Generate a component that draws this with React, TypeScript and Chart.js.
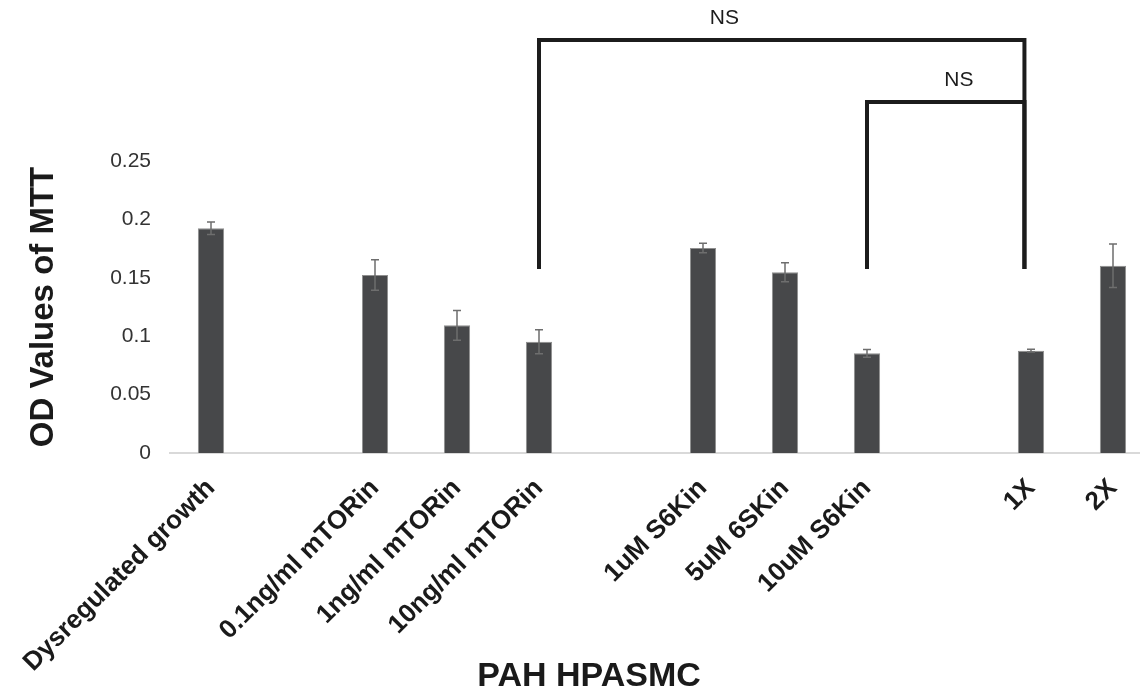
import { useEffect, useRef } from 'react';
import { Chart, registerables } from 'chart.js';

Chart.register(...registerables);

const categories = [
  'Dysregulated growth',
  '',
  '0.1ng/ml mTORin',
  '1ng/ml mTORin',
  '10ng/ml mTORin',
  '',
  '1uM S6Kin',
  '5uM 6SKin',
  '10uM S6Kin',
  '',
  '1X',
  '2X',
];
const odValues = [0.1924, null, 0.1524, 0.1093, 0.0953, null, 0.1755, 0.1547, 0.0853, null, 0.0876, 0.1604];
const odErrors = [0.0053, null, 0.0131, 0.0128, 0.0103, null, 0.004, 0.0081, 0.0034, null, 0.0012, 0.0186];
const yTickLabels = ['0', '0.05', '0.1', '0.15', '0.2', '0.25'];

// significance brackets (x in category units, y in data units)
const bracketStart = [4, 8];
const bracketEnd = [9.92, 9.92];
const bracketLevel = [0.3536, 0.3005];
const bracketBase = [0.1575, 0.1575];
const bracketLabels = ['NS', 'NS'];
const bracketLabelPos = [6.26, 9.12];

const xTitle = 'PAH HPASMC';
const yTitle = 'OD Values of MTT';

const FONT = '"Liberation Sans", Arial, Helvetica, sans-serif';

const errorBarPlugin = {
  id: 'errorBars',
  afterDatasetsDraw(chart: any) {
    const { ctx } = chart;
    const meta = chart.getDatasetMeta(0);
    const y = chart.scales.y;
    ctx.save();
    ctx.strokeStyle = '#6e6e6e';
    ctx.lineWidth = 1.5;
    meta.data.forEach((bar: any, i: number) => {
      const v = odValues[i];
      const e = odErrors[i];
      if (v == null || e == null) return;
      const x = bar.x;
      const yt = y.getPixelForValue(v + e);
      const yb = y.getPixelForValue(v - e);
      ctx.beginPath();
      ctx.moveTo(x, yt);
      ctx.lineTo(x, yb);
      ctx.moveTo(x - 4, yt);
      ctx.lineTo(x + 4, yt);
      ctx.moveTo(x - 4, yb);
      ctx.lineTo(x + 4, yb);
      ctx.stroke();
    });
    ctx.restore();
  },
};

const bracketPlugin = {
  id: 'brackets',
  afterDraw(chart: any) {
    const { ctx } = chart;
    const xs = chart.scales.x;
    const ys = chart.scales.y;
    ctx.save();
    ctx.strokeStyle = '#1c1c1c';
    ctx.lineWidth = 4;
    ctx.lineJoin = 'miter';
    ctx.lineCap = 'butt';
    for (let i = 0; i < bracketStart.length; i++) {
      const x1 = xs.getPixelForValue(bracketStart[i]);
      const x2 = xs.getPixelForValue(bracketEnd[i]);
      const yl = ys.getPixelForValue(bracketLevel[i]);
      const yb = ys.getPixelForValue(bracketBase[i]);
      ctx.beginPath();
      ctx.moveTo(x1, yb);
      ctx.lineTo(x1, yl);
      ctx.lineTo(x2, yl);
      ctx.lineTo(x2, yb);
      ctx.stroke();
      ctx.fillStyle = '#1c1c1c';
      ctx.font = `21px ${FONT}`;
      ctx.textAlign = 'center';
      ctx.textBaseline = 'bottom';
      ctx.fillText(bracketLabels[i], xs.getPixelForValue(bracketLabelPos[i]), yl - 11);
    }
    // x axis title
    ctx.fillStyle = '#1a1a1a';
    ctx.font = `bold 34px ${FONT}`;
    ctx.textAlign = 'center';
    ctx.textBaseline = 'alphabetic';
    ctx.fillText(xTitle, 589, 686);
    ctx.restore();
  },
};

export default function App() {
  const ref = useRef<HTMLCanvasElement | null>(null);

  useEffect(() => {
    document.body.style.overflow = 'hidden';
    const canvas = ref.current;
    if (!canvas) return;
    const chart = new Chart(canvas, {
      type: 'bar',
      data: {
        labels: categories,
        datasets: [
          {
            data: odValues as any,
            backgroundColor: '#47484a',
            borderColor: '#8f8f8f',
            borderWidth: 1,
            barPercentage: 0.32,
            categoryPercentage: 1,
          },
        ],
      },
      options: {
        animation: false,
        responsive: false,
        maintainAspectRatio: false,
        layout: { padding: { top: 161, right: 6, left: 0, bottom: 0 } },
        plugins: { legend: { display: false }, tooltip: { enabled: false } },
        scales: {
          x: {
            grid: { display: false, drawTicks: false },
            border: { display: true, color: '#d9d9d9', width: 2 },
            ticks: {
              autoSkip: false,
              maxRotation: 45,
              minRotation: 45,
              padding: 20,
              color: '#1a1a1a',
              font: { family: FONT, size: 26, weight: 'bold' },
            },
            afterFit(scale: any) {
              scale.height = 237;
            },
          },
          y: {
            min: 0,
            max: 0.25,
            grid: { display: false, drawTicks: false },
            border: { display: false },
            ticks: {
              stepSize: 0.05,
              padding: 19,
              color: '#333333',
              font: { family: FONT, size: 21 },
              callback: (_v: any, i: number) => yTickLabels[i],
            },
            title: {
              display: true,
              text: yTitle,
              color: '#1a1a1a',
              font: { family: FONT, size: 33, weight: 'bold' },
              padding: { top: 24, bottom: 0 },
            },
            afterFit(scale: any) {
              scale.width = 170;
            },
          },
        },
      },
      plugins: [errorBarPlugin, bracketPlugin],
    });
    return () => chart.destroy();
  }, []);

  return (
    <div style={{ position: 'fixed', left: 0, top: 0, width: 1160, height: 690, background: '#ffffff' }}>
      <canvas ref={ref} width={1160} height={690} style={{ display: 'block' }} />
    </div>
  );
}
